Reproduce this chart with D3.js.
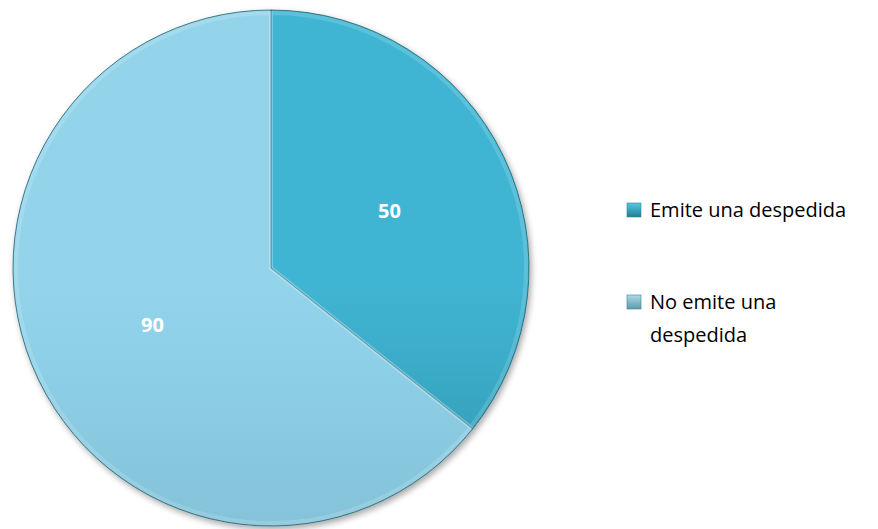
<!DOCTYPE html>
<html lang="es">
<head>
<meta charset="UTF-8">
<title>Despedida</title>
<script src="https://cdn.jsdelivr.net/npm/d3@7"></script>
<style>
    body { margin: 0; background: #fff; }
    .label { font-family: "Open Sans", sans-serif; font-weight: bold; font-size: 20px; fill: #fff; }
    .legend text { font-family: "Open Sans", sans-serif; font-size: 20px; fill: #000; }
</style>
</head>
<body>
<script>
    const categories = ["Emite una despedida", "No emite una despedida"];
    const values = [50, 90];
    const legendLines = [["Emite una despedida"], ["No emite una", "despedida"]];

    const width = 878, height = 529;
    const cx = 271, cy = 268, radius = 258;

    const svg = d3.select("body").append("svg")
        .attr("width", width)
        .attr("height", height);

    const defs = svg.append("defs");

    // slice gradients, lighter at the top and darker below
    const fills = [
        [["0%", "#41b5d3"], ["15%", "#3badca"], ["40%", "#339ab4"], ["66%", "#2e90a9"], ["100%", "#28859b"]],
        [["0%", "#93d4eb"], ["18%", "#8dcfe7"], ["62%", "#80bdd2"], ["91%", "#75aec2"], ["100%", "#71a8bb"]]
    ];
    fills.forEach((stops, i) => {
        const g = defs.append("linearGradient")
            .attr("id", "grad" + i)
            .attr("gradientUnits", "userSpaceOnUse")
            .attr("x1", 0).attr("y1", cy - radius)
            .attr("x2", 0).attr("y2", cy + radius);
        stops.forEach(s => g.append("stop").attr("offset", s[0]).attr("stop-color", s[1]));
    });

    const shadow = defs.append("filter").attr("id", "shadow")
        .attr("x", "-10%").attr("y", "-10%").attr("width", "120%").attr("height", "120%");
    shadow.append("feGaussianBlur").attr("in", "SourceAlpha").attr("stdDeviation", 3);
    shadow.append("feOffset").attr("dx", 2).attr("dy", 3).attr("result", "b");
    shadow.append("feComponentTransfer").append("feFuncA").attr("type", "linear").attr("slope", 0.35);
    const merge = shadow.append("feMerge");
    merge.append("feMergeNode");
    merge.append("feMergeNode").attr("in", "SourceGraphic");

    const pie = d3.pie().sort(null).value(d => d);
    const arcs = pie(values);

    const arc = d3.arc().innerRadius(0).outerRadius(radius);
    const bevel = d3.arc().innerRadius(0).outerRadius(radius - 3);
    const labelArc = d3.arc().innerRadius(radius * 0.51).outerRadius(radius * 0.51);

    const g = svg.append("g").attr("transform", `translate(${cx},${cy})`);

    g.append("g").attr("filter", "url(#shadow)")
        .selectAll("path.slice")
        .data(arcs)
        .join("path").attr("class", "slice")
        .attr("d", arc)
        .attr("fill", (d, i) => `url(#grad${i})`)
        .attr("stroke", "#1f5f6e")
        .attr("stroke-width", 0.8);

    // soft bevel highlight just inside each slice
    g.selectAll("path.bevel")
        .data(arcs)
        .join("path").attr("class", "bevel")
        .attr("d", bevel)
        .attr("fill", "none")
        .attr("stroke", "#ffffff")
        .attr("stroke-opacity", 0.15)
        .attr("stroke-width", 4);

    g.selectAll("text.label")
        .data(arcs)
        .join("text").attr("class", "label")
        .attr("transform", d => `translate(${labelArc.centroid(d)})`)
        .attr("text-anchor", "middle")
        .attr("dy", "0.35em")
        .text(d => d.data);

    // legend
    const legend = svg.append("g").attr("class", "legend");
    const ly = [210, 302];
    const swatch = [
        ["#55c8e4", "#1f7f96"],
        ["#acdbea", "#5d9aac"]
    ];
    swatch.forEach((c, i) => {
        const lg = defs.append("linearGradient").attr("id", "sw" + i)
            .attr("x1", 0).attr("y1", 0).attr("x2", 0).attr("y2", 1);
        lg.append("stop").attr("offset", "0%").attr("stop-color", c[0]);
        lg.append("stop").attr("offset", "100%").attr("stop-color", c[1]);
    });

    const item = legend.selectAll("g.item")
        .data(categories)
        .join("g").attr("class", "item")
        .attr("transform", (d, i) => `translate(627,${ly[i]})`);

    item.append("rect")
        .attr("x", 0).attr("y", -7)
        .attr("width", 14).attr("height", 14)
        .attr("fill", (d, i) => `url(#sw${i})`)
        .attr("stroke", "#3a7f90").attr("stroke-width", 0.6);

    item.append("text")
        .attr("y", 0)
        .selectAll("tspan")
        .data((d, i) => legendLines[i])
        .join("tspan")
        .attr("x", 23)
        .attr("dy", (d, j) => j === 0 ? "0.35em" : "1.65em")
        .text(d => d);
</script>
</body>
</html>
